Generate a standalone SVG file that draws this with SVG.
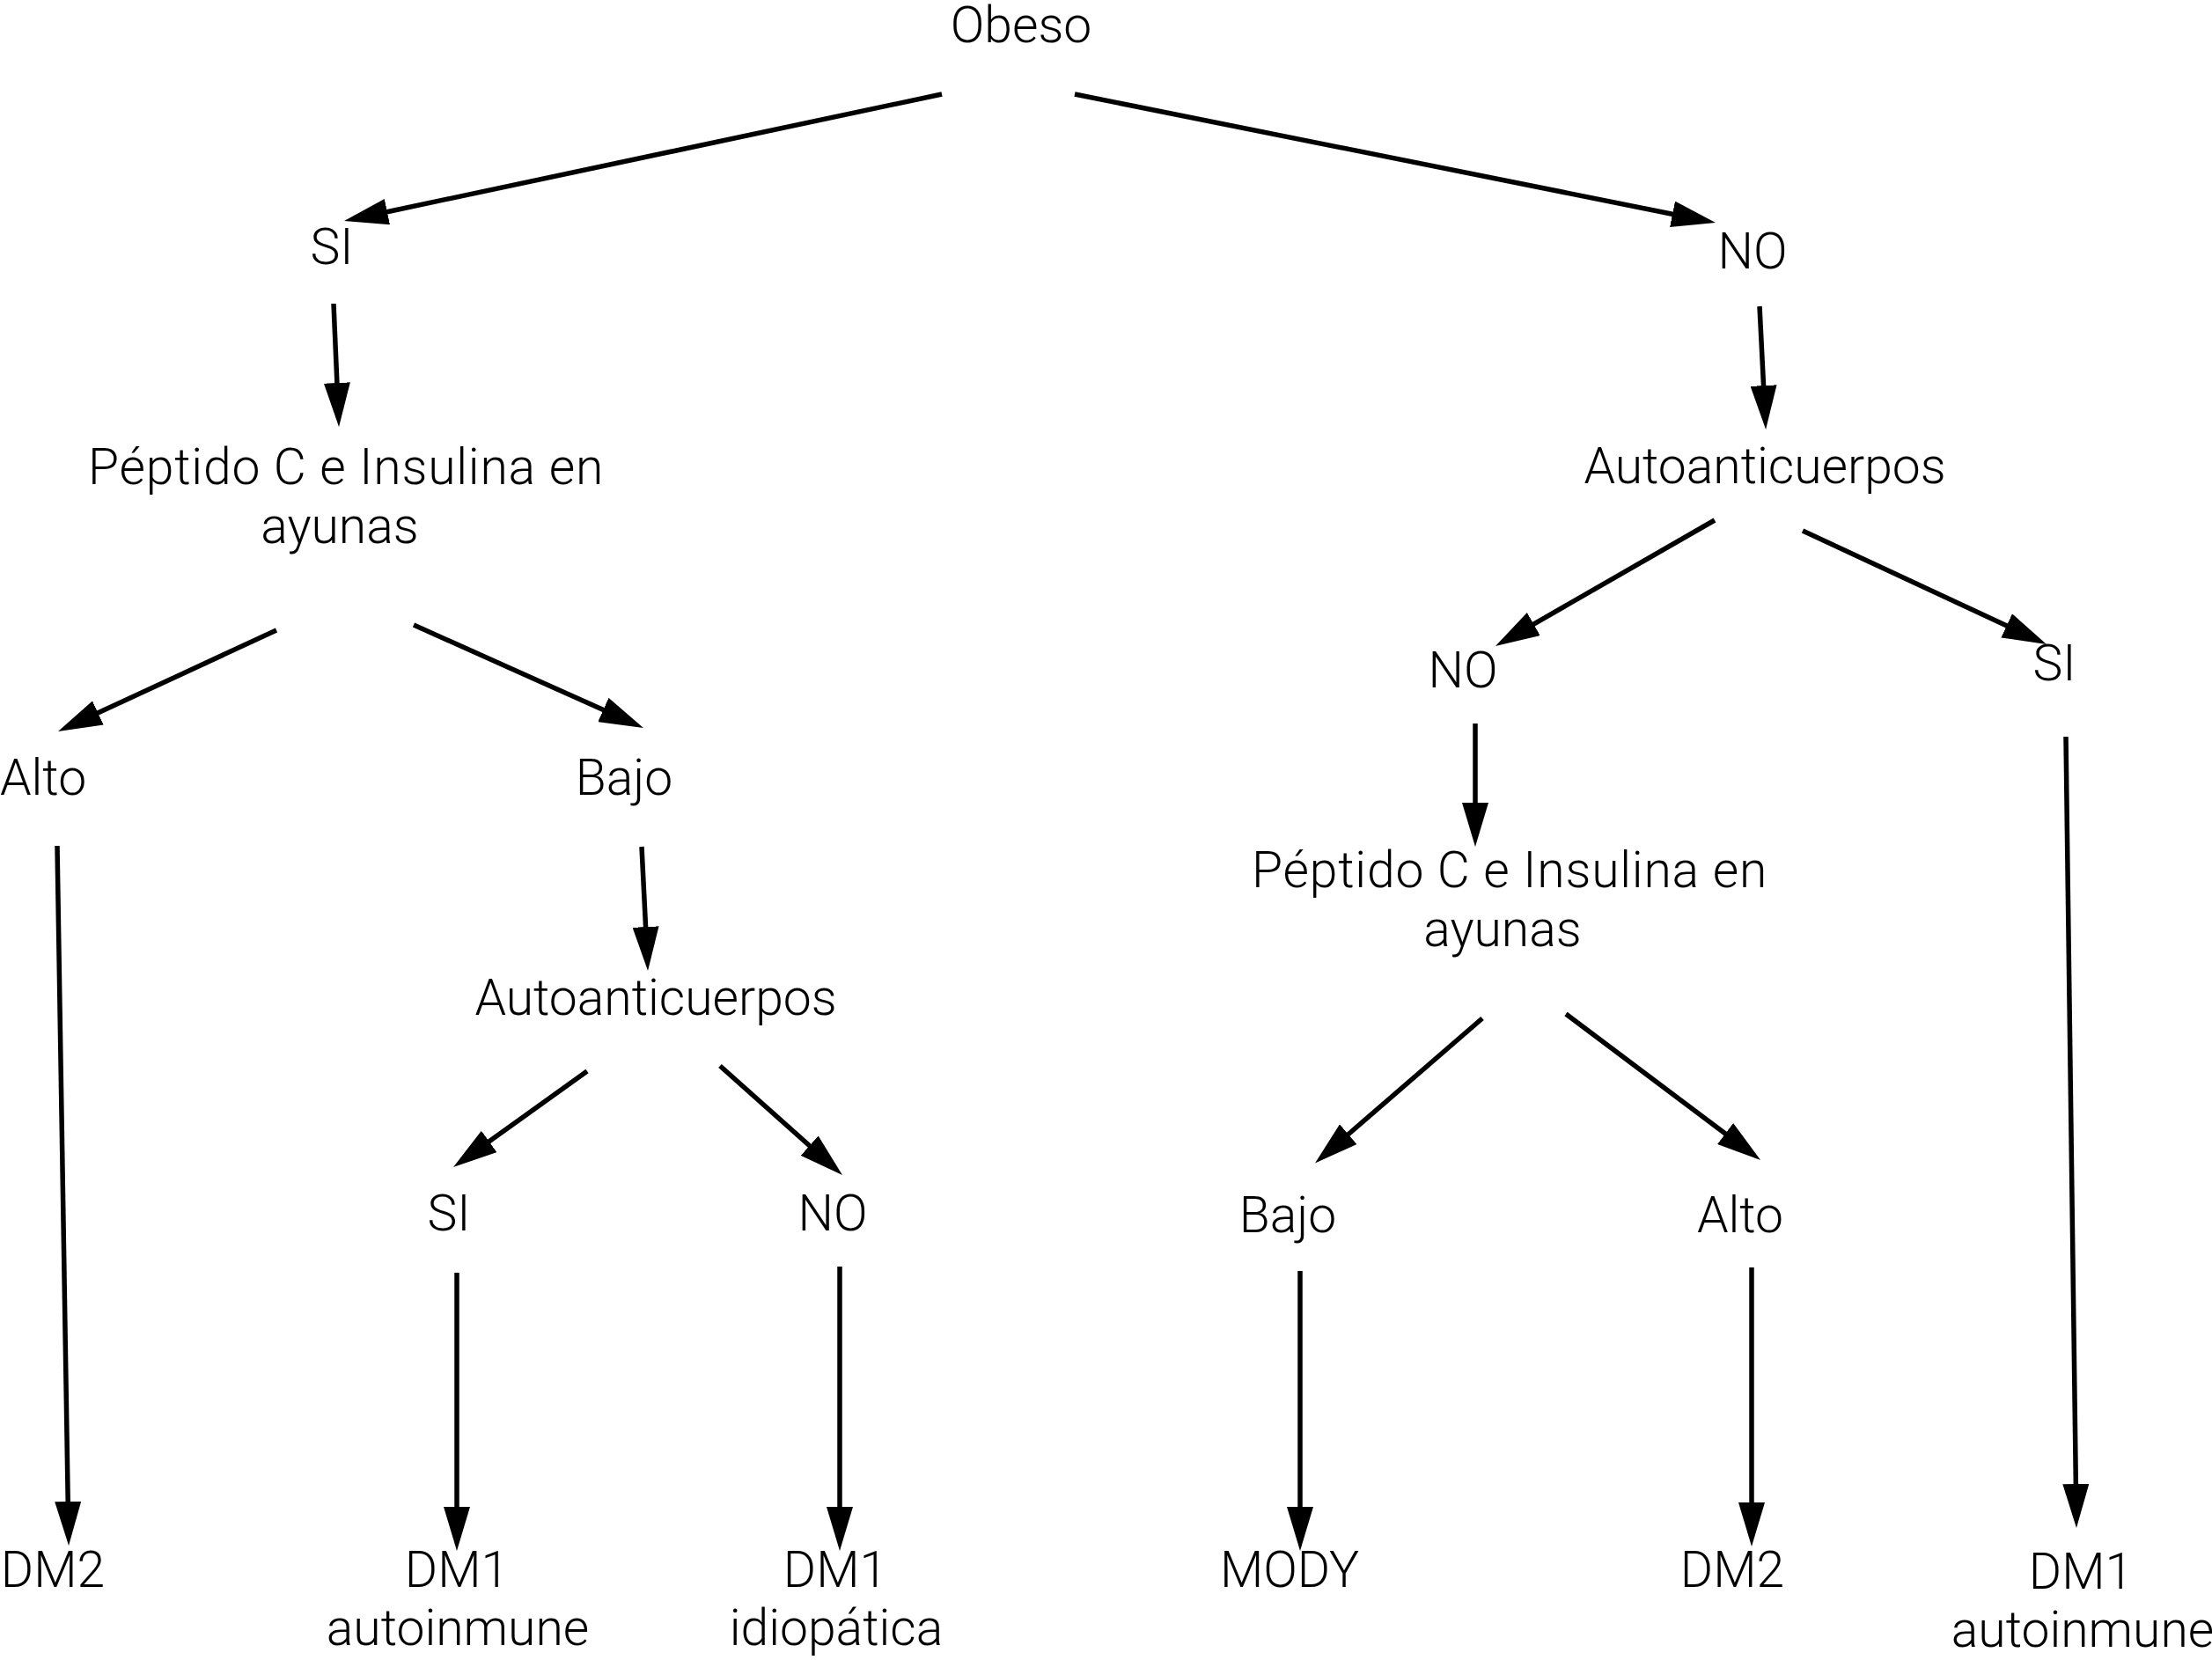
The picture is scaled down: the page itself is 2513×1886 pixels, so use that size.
<svg xmlns="http://www.w3.org/2000/svg" width="2513" height="1886" viewBox="0 0 2513 1886">
<style>
text{font-family:Roboto,"Liberation Sans",sans-serif;font-weight:300;font-size:57px;fill:#000;text-anchor:middle}
.w{letter-spacing:0.8px}
.c line{stroke:#000;stroke-width:5.5;fill:none;marker-end:url(#ah)}
</style>
<defs>
<marker id="ah" markerUnits="userSpaceOnUse" markerWidth="50" markerHeight="30" refX="5" refY="15" orient="auto" viewBox="0 0 50 30">
<path d="M0,0 L50,15 L0,30 z" fill="#000"/>
</marker>
</defs>
<rect width="2513" height="1886" fill="#fff"/>
<g id="n-obeso"><text x="1160" y="48">Obeso</text></g>
<g id="n-si1"><text x="377" y="300">SI</text></g>
<g id="n-no1"><text x="1991" y="305">NO</text></g>
<g id="n-pep1"><text class="w" x="393" y="550">Péptido C e Insulina en</text><text x="386" y="617">ayunas</text></g>
<g id="n-auto1"><text x="2005" y="549">Autoanticuerpos</text></g>
<g id="n-alto1"><text x="49" y="903">Alto</text></g>
<g id="n-bajo1"><text x="709" y="903">Bajo</text></g>
<g id="n-no2"><text x="1662" y="781">NO</text></g>
<g id="n-si2"><text x="2334" y="773">SI</text></g>
<g id="n-pep2"><text class="w" x="1715" y="1008">Péptido C e Insulina en</text><text x="1707" y="1075">ayunas</text></g>
<g id="n-auto2"><text x="745" y="1153">Autoanticuerpos</text></g>
<g id="n-si3"><text x="510" y="1398">SI</text></g>
<g id="n-no3"><text x="946" y="1398">NO</text></g>
<g id="n-bajo2"><text x="1463" y="1400">Bajo</text></g>
<g id="n-alto2"><text x="1977" y="1400">Alto</text></g>
<g id="n-dm2a"><text x="60" y="1803">DM2</text></g>
<g id="n-dm1a"><text x="519" y="1803">DM1</text><text x="520" y="1869">autoinmune</text></g>
<g id="n-dm1b"><text x="949" y="1803">DM1</text><text x="950" y="1869">idiopática</text></g>
<g id="n-mody"><text x="1465" y="1803">MODY</text></g>
<g id="n-dm2b"><text x="1968" y="1803">DM2</text></g>
<g id="n-dm1c"><text x="2364" y="1805">DM1</text><text x="2366" y="1871">autoinmune</text></g>
<g id="connectors" class="c">
<line x1="1070" y1="107" x2="435" y2="241.7"/>
<line x1="1221" y1="107" x2="1904.9" y2="244.2"/>
<line x1="379" y1="345" x2="383.1" y2="440"/>
<line x1="314" y1="716" x2="106.8" y2="812.1"/>
<line x1="470" y1="710" x2="689.9" y2="808.6"/>
<line x1="65" y1="961" x2="77.3" y2="1711"/>
<line x1="729" y1="962" x2="733.8" y2="1058.1"/>
<line x1="667" y1="1217" x2="551.6" y2="1299.8"/>
<line x1="818" y1="1211" x2="923.4" y2="1305"/>
<line x1="519" y1="1446" x2="519" y2="1717"/>
<line x1="954" y1="1439" x2="954" y2="1717"/>
<line x1="1999" y1="348" x2="2003.8" y2="443.1"/>
<line x1="1948" y1="591" x2="1738" y2="711.6"/>
<line x1="2048" y1="603" x2="2284.2" y2="713"/>
<line x1="1676" y1="822" x2="1676" y2="917"/>
<line x1="1684" y1="1157" x2="1528" y2="1292"/>
<line x1="1779" y1="1152" x2="1964.1" y2="1291"/>
<line x1="1477" y1="1444" x2="1477" y2="1717"/>
<line x1="1990" y1="1440" x2="1990" y2="1712"/>
<line x1="2347" y1="837" x2="2358.4" y2="1691"/>
</g>
</svg>
